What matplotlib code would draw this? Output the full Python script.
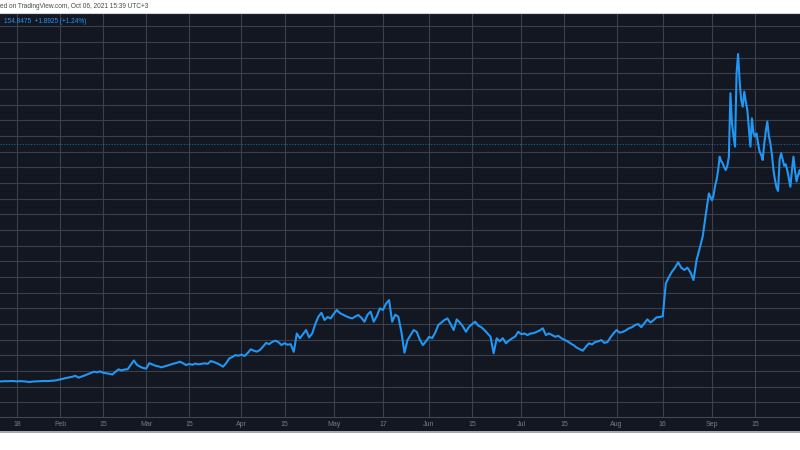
import matplotlib
matplotlib.use("Agg")
import matplotlib.pyplot as plt
import matplotlib.patches as mpatches
from matplotlib.lines import Line2D
import pandas as pd

# ---------------- data (SOL/USD) ----------------
daily_start = "2021-01-12"
daily_prices = [
    3.5, 3.4, 3.6, 3.5, 3.7, 3.6, 3.4, 3.6, 3.5, 3.3,
    3.0, 3.3, 3.4, 3.5, 3.6, 3.7, 3.6, 3.8, 3.9, 4.2,
    4.7, 5.1, 5.6, 6.0, 6.4, 7.0, 5.8, 6.5, 7.2, 8.0,
    8.8, 9.6, 9.2, 9.8, 9.0, 8.6, 8.3, 7.8, 9.5, 11.1,
    10.4, 11.0, 11.2, 14.0, 16.8, 14.0, 12.8, 12.0, 11.6, 15.0,
    14.3, 13.4, 13.0, 12.4, 13.0, 13.6, 14.2, 14.8, 15.3, 16.0,
    15.0, 13.8, 14.6, 14.0, 14.8, 14.3, 14.6, 15.0, 14.6, 16.4,
    15.8, 15.0, 14.0, 12.8, 15.0, 18.0, 19.0, 20.2, 19.8, 20.5,
    19.6, 21.5, 23.9, 23.0, 22.4, 23.5, 25.6, 28.0, 27.2, 28.6,
    29.4, 28.5, 26.6, 27.8, 26.8, 27.2, 22.3, 34.0, 30.9, 33.5,
    36.2, 31.5, 34.0, 40.0, 44.7, 47.2, 42.6, 44.5, 43.6, 46.5,
    49.0, 47.0, 46.0, 45.0, 44.2, 43.6, 44.8, 45.8, 44.0, 41.5,
    46.0, 47.9, 41.5, 45.0, 50.0, 49.0, 53.0, 55.3, 41.5, 46.0,
    44.7, 35.1, 21.7, 29.8, 33.0, 36.2, 35.0, 30.0, 26.6, 29.0,
    31.9, 31.0, 34.5, 39.4, 41.0, 42.6, 43.6, 40.0, 36.2, 43.0,
    41.0, 38.5, 35.1, 38.3, 40.0, 41.5, 39.0, 38.0, 36.2, 34.0,
    31.9, 21.3, 30.9, 29.0, 31.0, 27.7, 29.5, 30.9, 32.0, 35.1,
    33.5, 34.0, 33.0, 34.0, 34.2, 35.0, 36.0, 37.3, 33.0, 34.0,
    33.0, 31.9, 32.5, 31.0, 30.0, 29.0, 27.7, 26.5, 25.0, 24.0,
    23.0, 25.5, 27.7, 27.0, 28.5, 29.0, 29.8, 28.0, 28.5, 31.5,
    34.1, 36.2, 34.5, 35.0, 36.0, 37.3, 38.0, 39.4, 40.0, 38.0,
    40.5, 43.0, 41.0, 42.5, 44.3, 44.5, 45.0, 66.0, 70.0, 73.4,
    76.0, 79.4, 76.0, 74.5, 76.0, 73.0, 68.1, 80.9, 88.3, 96.0,
    110.0, 123.4,
]
sep_start = "2021-09-01"
sep_prices_12h = [
    119, 122, 128, 132, 138, 146.8, 144, 142.6, 140, 138.3,
    141, 146.8, 187.3, 168.1, 160, 153.2, 200, 212.3, 195, 183,
    178.7, 188.3, 182, 176.6, 165, 153.2, 171.3, 162, 159.6, 161.7,
    155, 150, 148, 144.7, 155, 163, 169.2, 160, 155.4, 148,
    138.3, 132, 127, 125, 145, 149, 145, 141, 142, 138,
    133, 127.6, 138, 146.8, 138, 131, 135, 138.3, 134, 136,
]
last_price = 154.8475
change_text = "+1.8925 (+1.24%)"
header_text = "ed on TradingView.com, Oct 06, 2021 15:39 UTC+3"

tick_dates = ["2021-01-18", "2021-02-01", "2021-02-15", "2021-03-01", "2021-03-15",
              "2021-04-01", "2021-04-15", "2021-05-01", "2021-05-17", "2021-06-01",
              "2021-06-15", "2021-07-01", "2021-07-15", "2021-08-01", "2021-08-16",
              "2021-09-01", "2021-09-15"]
tick_labels = ["18", "Feb", "15", "Mar", "15", "Apr", "15", "May", "17", "Jun",
               "15", "Jul", "15", "Aug", "16", "Sep", "15"]
price_grid = list(range(-10, 240, 10))

# ---------------- build series ----------------
d1 = pd.date_range(daily_start, periods=len(daily_prices), freq="D")
d2 = pd.date_range(sep_start, periods=len(sep_prices_12h), freq="12h")
dates = list(d1) + list(d2)
prices = daily_prices + sep_prices_12h

BG = "#131722"
GRID = "#3b3f4b"
BLUE = "#2196f3"
FONT = ["Liberation Sans", "DejaVu Sans"]

W, H = 800, 450
fig = plt.figure(figsize=(8, 4.5), dpi=100)
fig.patch.set_facecolor("white")

def fy(py):
    return 1 - py / H

# dark panel (chart + time scale)
fig.patches.append(mpatches.Rectangle((0, fy(431)), 1, fy(13) - fy(431),
                                      transform=fig.transFigure, facecolor=BG,
                                      edgecolor="none", zorder=0))
fig.lines.append(Line2D([0, 1], [fy(13), fy(13)], transform=fig.transFigure,
                        color="#d1d4dc", lw=0.8))
fig.lines.append(Line2D([0, 1], [fy(431.5), fy(431.5)], transform=fig.transFigure,
                        color="#9598a1", lw=1.2))

ax = fig.add_axes([0, fy(417), 1, fy(13) - fy(417)])
ax.set_facecolor(BG)
ax.set_zorder(1)

ax.plot(dates, prices, color=BLUE, lw=1.5, solid_joinstyle="round", zorder=3)
ax.axhline(last_price, color=BLUE, lw=0.8, ls=(0, (1, 1.5)), alpha=0.6, zorder=2)

base = pd.Timestamp("2021-01-01")
ax.set_xlim(base + pd.Timedelta(days=11.47), base + pd.Timedelta(days=271.63))
ax.set_ylim(-19.3, 238.5)

ax.set_xticks(pd.to_datetime(tick_dates))
ax.set_xticklabels(tick_labels, family=FONT)
ax.set_yticks(price_grid)
ax.grid(True, color=GRID, lw=0.8)
ax.set_axisbelow(True)
ax.tick_params(axis="x", length=0, pad=3.2, labelsize=5.0, labelcolor="#787b86")
ax.tick_params(axis="y", left=False, labelleft=False)
for s in ["top", "left", "right"]:
    ax.spines[s].set_visible(False)
ax.spines["bottom"].set_color("#434651")
ax.spines["bottom"].set_linewidth(0.8)

fig.text(0, fy(6.5), header_text, fontsize=4.7, color="#4a4a4a",
         ha="left", va="center", family=FONT)
fig.text(4 / W, fy(21.5), f"{last_price:.4f}  {change_text}",
         fontsize=4.7, color=BLUE, ha="left", va="center", family=FONT, zorder=5)

fig.savefig("out.png", dpi=100, facecolor="white")
